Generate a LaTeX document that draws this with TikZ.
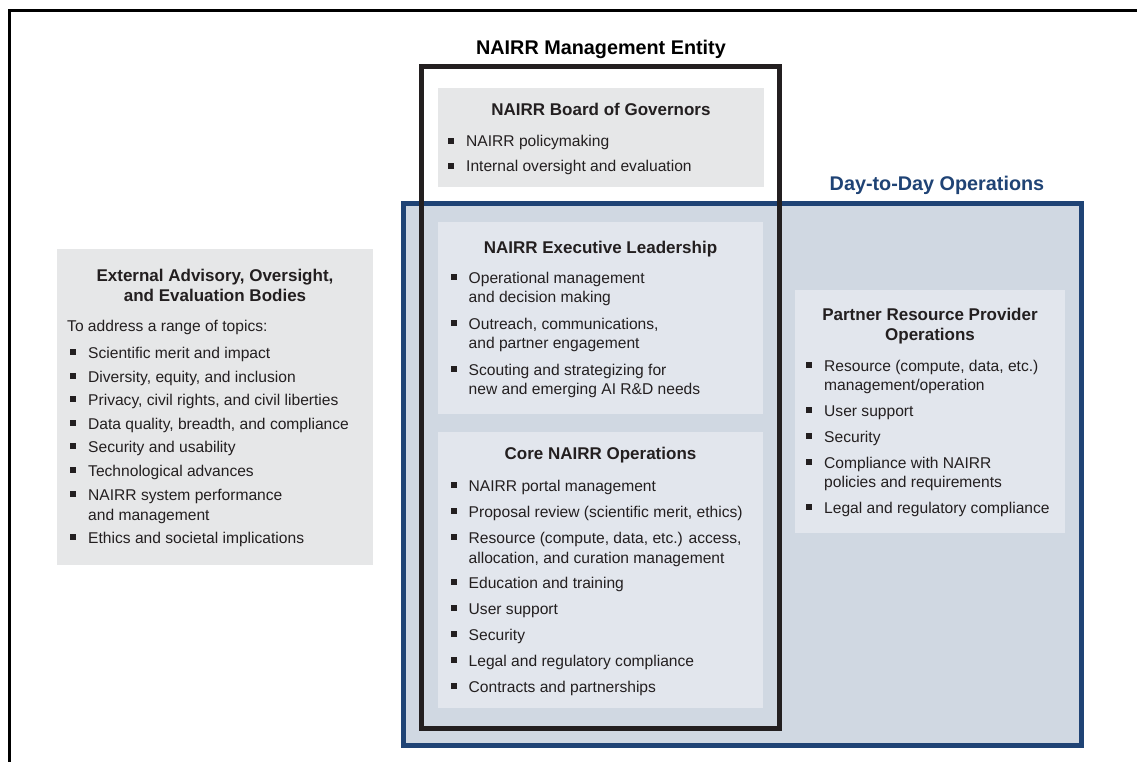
\documentclass[tikz,border=0pt]{standalone}
\usepackage{fontspec}
\setmainfont{Liberation Sans}
\definecolor{txt}{RGB}{35,31,32}
\definecolor{navy}{RGB}{31,67,117}
\definecolor{dayfill}{RGB}{208,216,226}
\definecolor{lightblue}{RGB}{226,230,237}
\definecolor{lightgray}{RGB}{230,231,232}
\tikzset{
  panel/.style={draw=none, anchor=north west, inner sep=0, outer sep=0, rectangle},
  bsq/.style={fill=txt, draw=none, inner sep=0, minimum size=6pt, rectangle},
  body/.style={anchor=base west, inner sep=0, text=txt, font=\fontsize{15.6}{20}\selectfont},
  ttl/.style={anchor=base, inner sep=0, text=txt, font=\fontsize{17}{20}\selectfont\bfseries},
  head/.style={anchor=base, inner sep=0, font=\fontsize{19.8}{24}\selectfont\bfseries},
}
% name, bullet-x, text-x, baseline-y, text
\newcommand\itemline[5]{%
  \node[bsq] (#1b) at (#2,{#4-6}) {};
  \node[body] (#1) at (#3,#4) {#5};}
\newcommand\contline[4]{%
  \node[body] (#1) at (#2,#3) {#4};}
\begin{document}
\begin{tikzpicture}[x=1pt,y=-1pt]
\useasboundingbox (0,0) rectangle (1137,762);
\fill[white] (0,0) rectangle (1137,762);
% outer frame (cropped)
\draw[line width=2.6pt, black] (9.3,762) -- (9.3,10.3) -- (1137,10.3);

% Day-to-day operations box
\node[panel, draw=navy, line width=5pt, fill=dayfill, minimum width=678pt, minimum height=542pt] (day) at (403.5,203.5) {};
\node[head, text=navy] (daytitle) at (937,191) {Day-to-Day Operations};

% panels
\node[panel, fill=lightgray, minimum width=326pt, minimum height=99pt] (board) at (438,88) {};
\node[panel, fill=lightblue, minimum width=325pt, minimum height=192pt] (exec) at (438,222) {};
\node[panel, fill=lightblue, minimum width=325pt, minimum height=276pt] (core) at (438,432) {};
\node[panel, fill=lightblue, minimum width=270pt, minimum height=243pt] (partner) at (795,290) {};
\node[panel, fill=lightgray, minimum width=316pt, minimum height=316pt] (ext) at (57,249) {};

% management entity box
\node[panel, draw=txt, line width=5pt, minimum width=357.5pt, minimum height=662pt] (mgmt) at (421.5,66.5) {};
\node[head, text=black] (mgmttitle) at (601,55) {NAIRR Management Entity};

% Board of governors
\node[ttl] (boardtitle) at (601,116) {NAIRR Board of Governors};
\itemline{bo1}{451}{466}{147}{NAIRR policymaking}
\itemline{bo2}{451}{466}{172}{Internal oversight and evaluation}

% Executive leadership
\node[ttl] (exectitle) at (600.5,253) {NAIRR Executive Leadership};
\itemline{ex1}{454}{468.5}{283}{Operational management}
\contline{ex1c}{468.5}{302}{and decision making}
\itemline{ex2}{454}{468.5}{329}{Outreach, communications,}
\contline{ex2c}{468.5}{348}{and partner engagement}
\itemline{ex3}{454}{468.5}{375}{Scouting and strategizing for}
\contline{ex3c}{468.5}{394}{new and emerging AI R\&D needs}

% Core operations
\node[ttl] (coretitle) at (600.5,459) {Core NAIRR Operations};
\itemline{co1}{454}{468.5}{491}{NAIRR portal management}
\itemline{co2}{454}{468.5}{517}{Proposal review (scientific merit, ethics)}
\itemline{co3}{454}{468.5}{543}{Resource (compute, data, etc.) access,}
\contline{co3c}{468.5}{563}{allocation, and curation management}
\itemline{co4}{454}{468.5}{588}{Education and training}
\itemline{co5}{454}{468.5}{614}{User support}
\itemline{co6}{454}{468.5}{640}{Security}
\itemline{co7}{454}{468.5}{666}{Legal and regulatory compliance}
\itemline{co8}{454}{468.5}{692}{Contracts and partnerships}

% Partner resource provider operations
\node[ttl] (partitle1) at (930,320) {Partner Resource Provider};
\node[ttl] (partitle2) at (930,340) {Operations};
\itemline{pa1}{809}{824}{371}{Resource (compute, data, etc.)}
\contline{pa1c}{824}{390}{management/operation}
\itemline{pa2}{809}{824}{416}{User support}
\itemline{pa3}{809}{824}{442}{Security}
\itemline{pa4}{809}{824}{468}{Compliance with NAIRR}
\contline{pa4c}{824}{487}{policies and requirements}
\itemline{pa5}{809}{824}{513}{Legal and regulatory compliance}

% External advisory bodies
\node[ttl] (exttitle1) at (215,281) {External Advisory, Oversight,};
\node[ttl] (exttitle2) at (215,301) {and Evaluation Bodies};
\contline{extintro}{67}{331}{To address a range of topics:}
\itemline{et1}{73}{88}{358}{Scientific merit and impact}
\itemline{et2}{73}{88}{382}{Diversity, equity, and inclusion}
\itemline{et3}{73}{88}{405}{Privacy, civil rights, and civil liberties}
\itemline{et4}{73}{88}{429}{Data quality, breadth, and compliance}
\itemline{et5}{73}{88}{452}{Security and usability}
\itemline{et6}{73}{88}{476}{Technological advances}
\itemline{et7}{73}{88}{500}{NAIRR system performance}
\contline{et7c}{88}{520}{and management}
\itemline{et8}{73}{88}{543}{Ethics and societal implications}
\end{tikzpicture}
\end{document}
